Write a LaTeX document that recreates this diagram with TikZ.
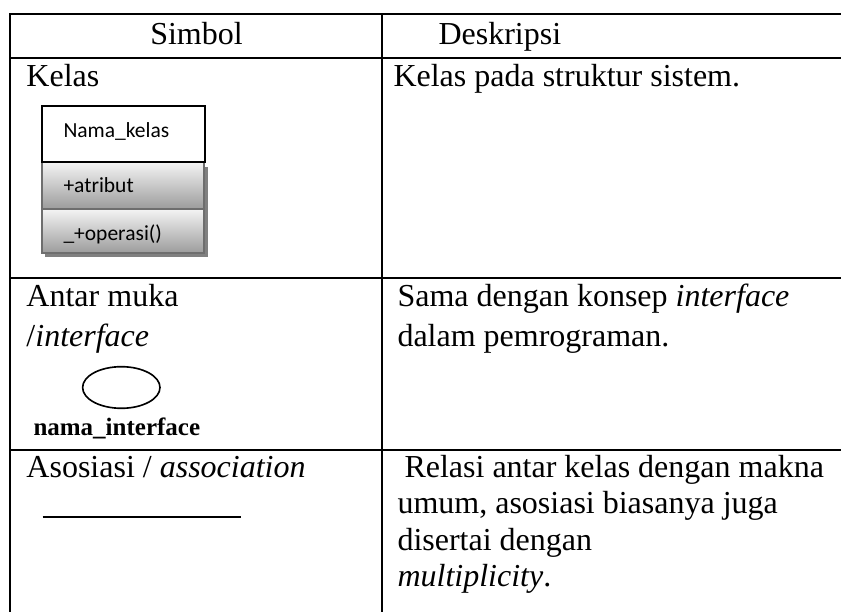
\documentclass[tikz,border=0pt]{standalone}
\usepackage{fontspec}
\setmainfont{Liberation Serif}
\newfontfamily\uifont{Carlito}
\usetikzlibrary{calc}
\definecolor{shadowgray}{HTML}{808080}
\definecolor{edgegray}{HTML}{6E6E6E}
\definecolor{shadetop}{HTML}{F4F4F4}
\definecolor{shadebot}{HTML}{9C9C9C}
\begin{document}
\begin{tikzpicture}[x=0.4pt,y=-0.4pt,
  rule/.style={line width=0.85pt, line cap=rect},
  cell/.style={anchor=base west, inner sep=0pt, font=\fontsize{12.8}{15}\selectfont},
  head/.style={anchor=base, inner sep=0pt, font=\fontsize{12.8}{15}\selectfont},
  member/.style={anchor=base west, inner sep=0pt, font=\uifont\fontsize{8.6}{10}\selectfont},
  section/.style={top color=shadetop, bottom color=shadebot, draw=edgegray, line width=0.5pt},
  symline/.style={line width=0.65pt}
]
\useasboundingbox (0,0) rectangle (841,612);

% table frame and grid
\coordinate (tl) at (10,14);
\coordinate (bl) at (10,612);
\coordinate (tr) at (841,14);
\coordinate (divtop) at (382,14);
\coordinate (divbot) at (382,612);
\draw[rule] (tr) -- (tl) -- (bl);
\draw[rule] (divtop) -- (divbot);
\draw[rule] (10,58) -- (841,58);
\draw[rule] (10,278) -- (841,278);
\draw[rule] (10,450) -- (841,450);

% header
\node[head] (hsimbol) at (196.5,45) {Simbol};
\node[cell] (hdesk) at (438,45) {Deskripsi};

% row 1: class
\node[cell] (kelas) at (26,87) {Kelas};
\node[cell] (kelasdesc) at (393,87) {Kelas pada struktur sistem.};

\fill[shadowgray] (45,167) rectangle (207.5,257.5);
\shade[section] (42,162) rectangle (204,209);
\shade[section] (42,209) rectangle (204,253);
\draw[line width=0.6pt, fill=white] (42,106) rectangle (205,162);
\node[member] (cname) at (63,138) {Nama\_kelas};
\node[member] (cattr) at (63,193) {+atribut};
\node[member] (cop) at (63,240.5) {\_+operasi()};

% row 2: interface
\node[cell] (antar) at (26,307) {Antar muka};
\node[cell] (antar2) at (26,347) {/\textit{interface}};
\node[cell] (ifdesc1) at (397,307) {Sama dengan konsep \textit{interface}};
\node[cell] (ifdesc2) at (397,347) {dalam pemrograman.};
\draw[symline] (121.3,387.5) ellipse [x radius=38.7, y radius=20.8];
\node[anchor=base west, inner sep=0pt, font=\bfseries\fontsize{10}{12}\selectfont] (ifname) at (33,435.5) {nama\_interface};

% row 3: association
\node[cell] (asos) at (26,478) {Asosiasi / \textit{association}};
\coordinate (lineA) at (42.5,516.7);
\coordinate (lineB) at (240.7,516.7);
\draw[symline] (lineA) -- (lineB);
\node[cell] (asdesc1) at (404,478) {Relasi antar kelas dengan makna};
\node[cell] (asdesc2) at (397,514) {umum, asosiasi biasanya juga};
\node[cell] (asdesc3) at (397,551) {disertai dengan};
\node[cell] (asdesc4) at (397,587) {\textit{multiplicity}.};
\end{tikzpicture}
\end{document}
